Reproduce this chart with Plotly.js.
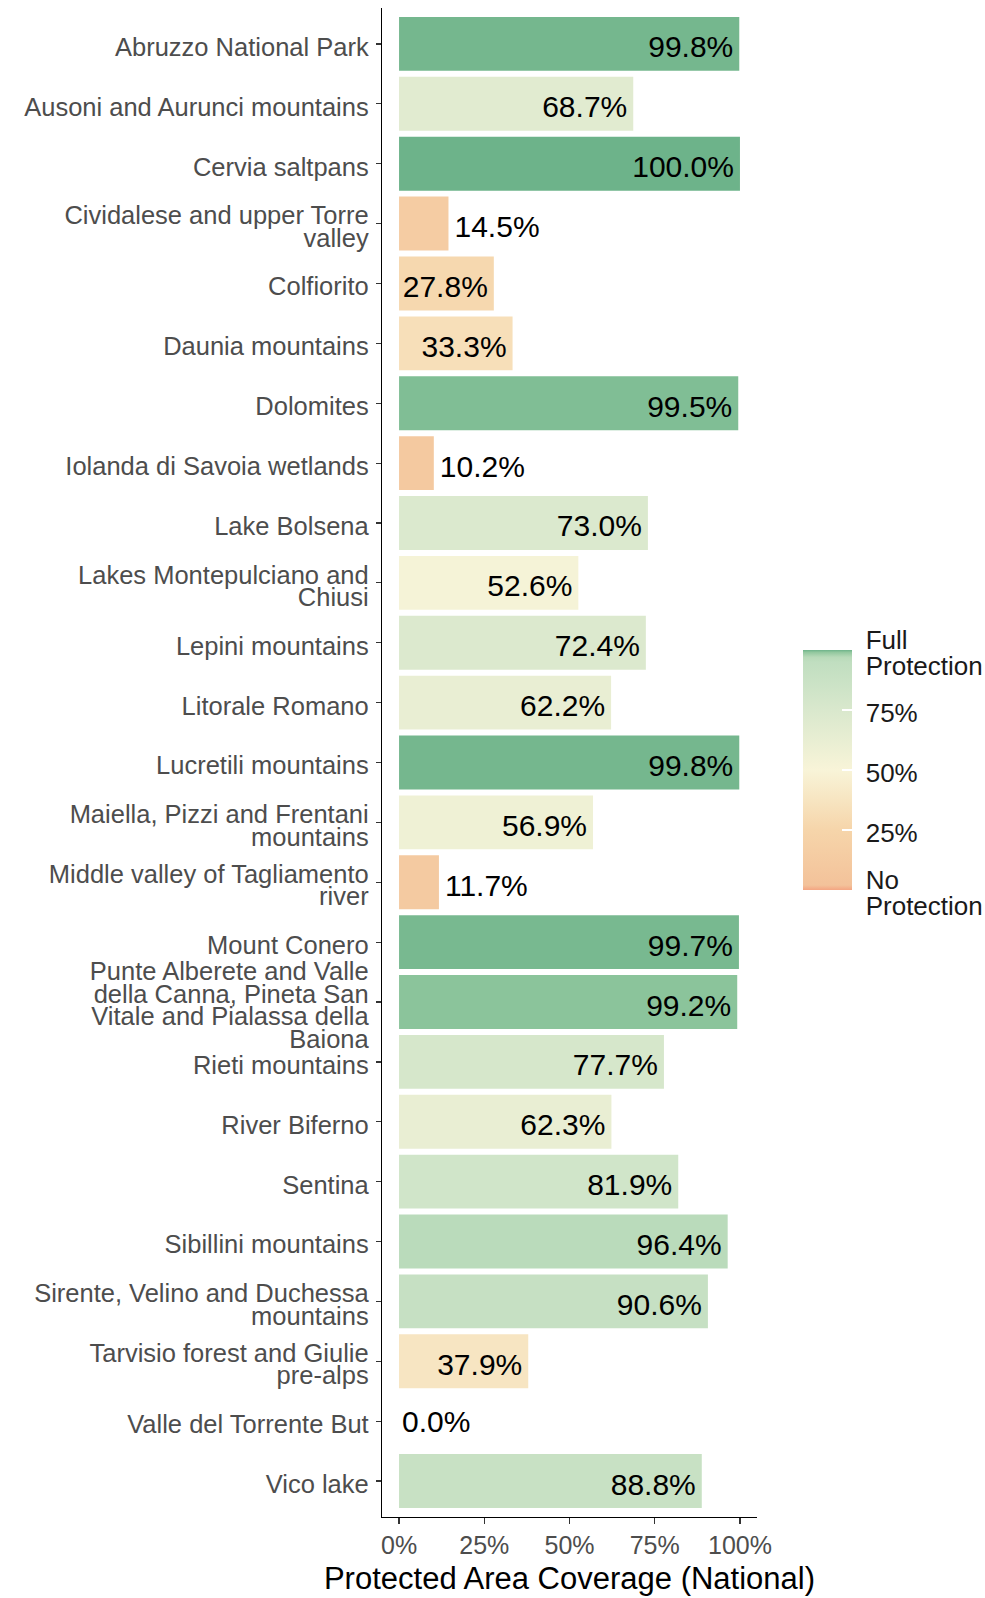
<!DOCTYPE html>
<html>
<head>
<meta charset="utf-8">
<script src="https://cdn.plot.ly/plotly-3.0.1.min.js"></script>
<style>html,body{margin:0;padding:0;background:#fff;}#chart{width:985px;height:1598px;}</style>
</head>
<body>
<div id="chart"></div>
<script>
// ---- data ----
const names = [
  "Abruzzo National Park","Ausoni and Aurunci mountains","Cervia saltpans",
  "Cividalese and upper Torre valley","Colfiorito","Daunia mountains","Dolomites",
  "Iolanda di Savoia wetlands","Lake Bolsena","Lakes Montepulciano and Chiusi",
  "Lepini mountains","Litorale Romano","Lucretili mountains",
  "Maiella, Pizzi and Frentani mountains","Middle valley of Tagliamento river",
  "Mount Conero","Punte Alberete and Valle della Canna, Pineta San Vitale and Pialassa della Baiona",
  "Rieti mountains","River Biferno","Sentina","Sibillini mountains",
  "Sirente, Velino and Duchessa mountains","Tarvisio forest and Giulie pre-alps",
  "Valle del Torrente But","Vico lake"
];
const tickLabels = [
  "Abruzzo National Park","Ausoni and Aurunci mountains","Cervia saltpans",
  "Cividalese and upper Torre<br>valley","Colfiorito","Daunia mountains","Dolomites",
  "Iolanda di Savoia wetlands","Lake Bolsena","Lakes Montepulciano and<br>Chiusi",
  "Lepini mountains","Litorale Romano","Lucretili mountains",
  "Maiella, Pizzi and Frentani<br>mountains","Middle valley of Tagliamento<br>river",
  "Mount Conero","Punte Alberete and Valle<br>della Canna, Pineta San<br>Vitale and Pialassa della<br>Baiona",
  "Rieti mountains","River Biferno","Sentina","Sibillini mountains",
  "Sirente, Velino and Duchessa<br>mountains","Tarvisio forest and Giulie<br>pre-alps",
  "Valle del Torrente But","Vico lake"
];
const coverage = [99.8,68.7,100.0,14.5,27.8,33.3,99.5,10.2,73.0,52.6,72.4,62.2,99.8,56.9,11.7,99.7,99.2,77.7,62.3,81.9,96.4,90.6,37.9,0.0,88.8];
const xTickVals = [0,25,50,75,100];
const xTickText = ["0%","25%","50%","75%","100%"];
const legendTickVals = [0,25,50,75,100];
const legendTickText = ["No<br>Protection","25%","50%","75%","Full<br>Protection"];
const colorStops = [0,0.02,0.25,0.5,0.75,0.95,0.97,0.99,1];
const colorHex = ["#F4A582","#F3C29A","#F6D5AA","#F8F4D8","#D9E8CD","#C0DEC0","#B8DAB9","#93C89F","#6DB38A"];

const FONT = "'Liberation Sans', Arial, sans-serif";
const labels = coverage.map(v => v.toFixed(1) + "%");
const colorscale = colorStops.map((s,i) => [s, colorHex[i]]);

const barTrace = {
  type: "bar", orientation: "h",
  x: coverage, y: names, width: 0.9,
  text: coverage.map((v,i) => v > 0 ? labels[i] : ""),
  textposition: "auto", insidetextanchor: "end", textangle: 0,
  constraintext: "none", cliponaxis: false,
  textfont: {family: FONT, size: 30, color: "#000"},
  insidetextfont: {family: FONT, size: 30, color: "#000"},
  outsidetextfont: {family: FONT, size: 30, color: "#000"},
  hoverinfo: "none",
  marker: {
    color: coverage, colorscale: colorscale, cmin: 0, cmax: 100,
    line: {width: 0},
    showscale: true,
    colorbar: {
      x: (803-382)/375, xanchor: "left", xpad: 0,
      y: 0.495, yanchor: "middle", ypad: 0,
      len: 240, lenmode: "pixels", thickness: 49, thicknessmode: "pixels",
      outlinewidth: 0,
      ticks: "inside", ticklen: 10, tickcolor: "#fff", tickwidth: 1.5,
      tickvals: legendTickVals, ticktext: legendTickText,
      tickfont: {family: FONT, size: 26, color: "#1a1a1a"}
    }
  }
};

// labels for bars with no length (nothing to anchor bar text to)
const zeroIdx = coverage.map((v,i) => v === 0 ? i : -1).filter(i => i >= 0);
const zeroTrace = {
  type: "scatter", mode: "text",
  x: zeroIdx.map(i => coverage[i]), y: zeroIdx.map(i => names[i]),
  text: zeroIdx.map(i => labels[i]), textposition: "middle right",
  textfont: {family: FONT, size: 30, color: "#000"},
  cliponaxis: false, hoverinfo: "none", showlegend: false
};

const layout = {
  width: 985, height: 1598,
  margin: {l: 382, r: 228, t: 8, b: 81, autoexpand: false},
  paper_bgcolor: "#fff", plot_bgcolor: "#fff",
  showlegend: false,
  font: {family: FONT},
  xaxis: {
    range: [-5, 105], tickvals: xTickVals, ticktext: xTickText,
    showgrid: false, zeroline: false,
    showline: true, linecolor: "#000", linewidth: 1.2,
    ticks: "outside", ticklen: 6, tickcolor: "#333", tickwidth: 1.2,
    tickfont: {family: FONT, size: 25, color: "#4D4D4D"},
    title: {text: "Protected Area Coverage (National)", font: {family: FONT, size: 31, color: "#000"}, standoff: 9}
  },
  yaxis: {
    type: "category", categoryorder: "array", categoryarray: names,
    range: [24.6, -0.6], tickvals: names, ticktext: tickLabels,
    showgrid: false, zeroline: false,
    showline: true, linecolor: "#000", linewidth: 1.2,
    ticks: "outside", ticklen: 5, tickcolor: "#333", tickwidth: 1.2,
    ticklabelstandoff: 2,
    tickfont: {family: FONT, size: 25.5, color: "#4D4D4D"}
  }
};

function tighten(sel, factor) {
  document.querySelectorAll(sel).forEach(t => {
    const lines = t.querySelectorAll("tspan.line");
    if (lines.length < 2) return;
    const b0 = t.getBBox(); const c0 = b0.y + b0.height / 2;
    const absolute = lines[0].hasAttribute("y");
    lines.forEach((ln, i) => {
      if (absolute) ln.setAttribute("dy", (i * factor) + "em");
      else if (i > 0) ln.setAttribute("dy", factor + "em");
    });
    const b1 = t.getBBox(); const c1 = b1.y + b1.height / 2;
    const d = c0 - c1;
    t.setAttribute("y", parseFloat(t.getAttribute("y") || 0) + d);
    lines.forEach(ln => { if (ln.hasAttribute("y")) ln.setAttribute("y", parseFloat(ln.getAttribute("y")) + d); });
  });
}
function shiftAttr(sel, attr, delta) {
  document.querySelectorAll(sel).forEach(t => {
    t.setAttribute(attr, parseFloat(t.getAttribute(attr) || 0) + delta);
    t.querySelectorAll("tspan").forEach(s => { if (s.hasAttribute(attr)) s.setAttribute(attr, parseFloat(s.getAttribute(attr)) + delta); });
  });
}

Plotly.newPlot("chart", [barTrace, zeroTrace], layout, {displayModeBar: false, staticPlot: true}).then(() => {
  tighten(".ytick text", 0.88);
  tighten(".colorbar text", 1.0);
  shiftAttr(".colorbar text", "x", 8);
  shiftAttr(".colorbar text", "y", 3);
  shiftAttr(".ytick text", "y", 3);
  shiftAttr(".bartext", "y", 3);
  shiftAttr(".bartext-inside", "x", -3);
  shiftAttr(".bartext-outside", "x", 3);
  shiftAttr(".textpoint text", "y", 3);
  shiftAttr(".textpoint text", "x", 3);
});
</script>
</body>
</html>
